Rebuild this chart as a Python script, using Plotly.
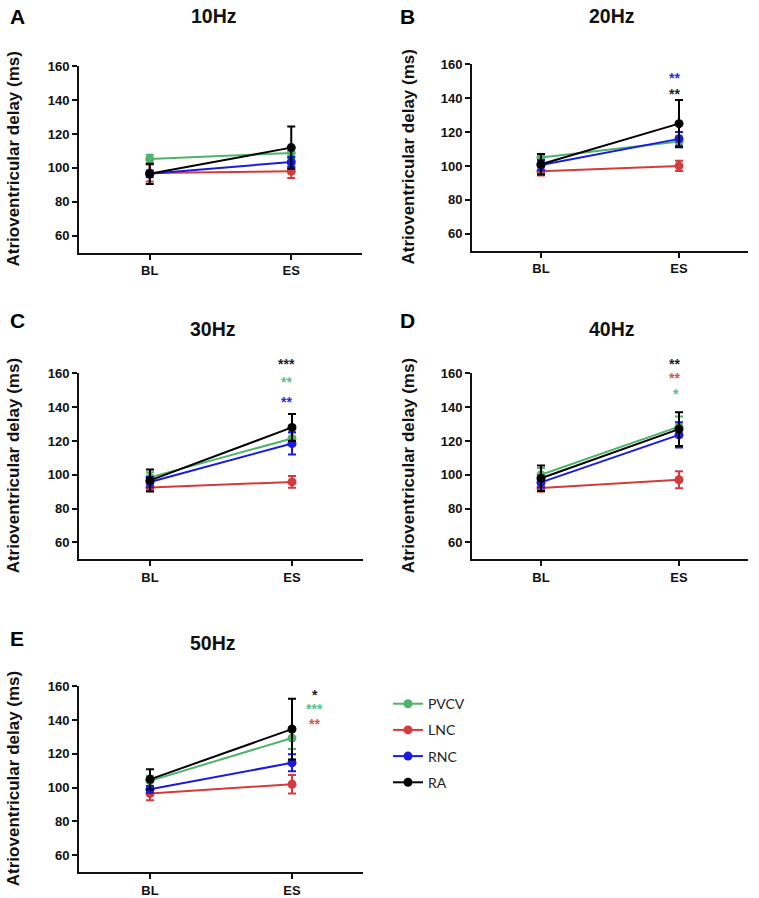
import plotly.graph_objects as go

W, H = 759, 898

# ---------------- data ----------------
conditions = ["BL", "ES"]
series_names = ["PVCV", "LNC", "RNC", "RA"]
panel_titles = ["10Hz", "20Hz", "30Hz", "40Hz", "50Hz"]
panel_letters = ["A", "B", "C", "D", "E"]

# mean values [BL, ES] per panel
pvcv_mean = [[105.3, 108.8], [105.0, 114.5], [98.5, 121.5], [100.0, 128.5], [104.0, 129.3]]
lnc_mean = [[97.0, 98.0], [96.8, 100.0], [92.5, 95.8], [92.2, 97.1], [96.5, 102.0]]
rnc_mean = [[96.5, 103.5], [100.5, 116.0], [95.7, 118.5], [95.5, 123.6], [99.0, 114.7]]
ra_mean = [[96.5, 112.0], [101.0, 125.0], [96.7, 128.0], [98.0, 127.0], [104.9, 134.6]]

# error (SEM) values [BL, ES] per panel
pvcv_err = [[2.5, 3.0], [2.0, 3.0], [3.0, 4.0], [4.0, 6.0], [3.0, 6.5]]
lnc_err = [[5.0, 4.0], [2.5, 3.0], [2.0, 3.5], [2.0, 5.0], [4.0, 5.5]]
rnc_err = [[2.0, 3.0], [3.0, 4.0], [3.0, 6.5], [3.0, 7.5], [2.0, 5.0]]
ra_err = [[6.0, 12.5], [6.0, 14.0], [6.5, 8.0], [7.5, 10.0], [6.0, 18.0]]

# significance marks
sig_panel = [1, 1, 2, 2, 2, 3, 3, 3, 4, 4, 4]
sig_text = ["**", "**", "***", "**", "**", "**", "**", "*", "*", "***", "**"]
sig_series = ["RNC", "RA", "RA", "PVCV", "RNC", "RA", "LNC", "PVCV", "RA", "PVCV", "LNC"]
sig_y = [152.6, 143.4, 166.0, 155.7, 143.6, 166.0, 157.8, 148.2, 155.3, 146.9, 138.5]
sig_x = [0.965, 0.965, 0.96, 0.96, 0.96, 0.97, 0.97, 0.98, 1.16, 1.16, 1.16]

y_ticks = [60, 80, 100, 120, 140, 160]
y_range = [50, 160]
x_range = [-0.5, 1.5]

# ---------------- styles ----------------
colors = {"PVCV": "#4fb36b", "LNC": "#d23c3c", "RNC": "#1a1ae0", "RA": "#000000"}
sig_colors = {"PVCV": "#5cc28e", "LNC": "#d05858", "RNC": "#2a2aee", "RA": "#222222"}
means = {"PVCV": pvcv_mean, "LNC": lnc_mean, "RNC": rnc_mean, "RA": ra_mean}
errs = {"PVCV": pvcv_err, "LNC": lnc_err, "RNC": rnc_err, "RA": ra_err}

# panel boxes in pixels: (x0, x1, ytop, ybottom)
boxes = [
    (79, 362, 60, 248),
    (472, 748, 58, 246),
    (79, 363, 370, 558),
    (472, 748, 370, 558),
    (79, 363, 686, 874),
]
title_pos = [(214, 9), (612, 9), (213, 325), (612, 325), (213, 642)]
letter_pos = [(8, 10), (398, 10), (8, 317), (398, 317), (8, 638)]
ytitle_x = [13, 408, 13, 408, 13]

FONT = "Liberation Sans, Arial, sans-serif"


def px(x):
    return x / W


def py(y):
    return 1 - y / H


fig = go.Figure()
layout = dict(
    width=W, height=H,
    margin=dict(l=0, r=0, t=0, b=0),
    paper_bgcolor="white", plot_bgcolor="white",
    font=dict(family=FONT, color="#111111"),
    annotations=[],
)

for i in range(5):
    sfx = "" if i == 0 else str(i + 1)
    x0, x1, yt, yb = boxes[i]
    layout["xaxis" + sfx] = dict(
        domain=[px(x0), px(x1)], range=x_range, anchor="y" + sfx,
        tickmode="array", tickvals=[0, 1], ticktext=conditions,
        showline=True, linecolor="#111111", linewidth=2,
        ticks="outside", ticklen=5, tickwidth=2, tickcolor="#111111",
        showgrid=False, zeroline=False, fixedrange=True,
        tickfont=dict(family=FONT, size=13, color="#111111", weight="bold"),
    )
    layout["yaxis" + sfx] = dict(
        domain=[py(yb), py(yt)], range=y_range, anchor="x" + sfx,
        tickmode="array", tickvals=y_ticks,
        showline=True, linecolor="#111111", linewidth=2,
        ticks="outside", ticklen=5, tickwidth=2, tickcolor="#111111",
        showgrid=False, zeroline=False, fixedrange=True,
        tickfont=dict(family=FONT, size=13, color="#111111", weight="bold"),
    )
    for name in series_names:
        fig.add_trace(go.Scatter(
            x=[0, 1], y=means[name][i],
            error_y=dict(type="data", array=errs[name][i], visible=True,
                         color=colors[name], thickness=2, width=4),
            mode="lines+markers",
            line=dict(color=colors[name], width=2),
            marker=dict(color=colors[name], size=9),
            name=name, legendgroup=name, showlegend=(i == 0),
            xaxis="x" + sfx, yaxis="y" + sfx,
        ))
    tx, ty = title_pos[i]
    layout["annotations"].append(dict(
        text=panel_titles[i], x=px(tx), y=py(ty), xref="paper", yref="paper",
        xanchor="center", yanchor="middle", showarrow=False,
        font=dict(family=FONT, size=19.5, color="#111111", weight="bold")))
    lx, ly = letter_pos[i]
    layout["annotations"].append(dict(
        text=panel_letters[i], x=px(lx), y=py(ly), xref="paper", yref="paper",
        xanchor="left", yanchor="middle", showarrow=False,
        font=dict(family=FONT, size=21, color="#000000", weight="bold")))
    layout["annotations"].append(dict(
        text="Atrioventricular delay (ms)", x=px(ytitle_x[i]), y=py((yt + yb) / 2),
        xref="paper", yref="paper", textangle=-90,
        xanchor="center", yanchor="middle", showarrow=False,
        font=dict(family=FONT, size=17, color="#111111", weight="bold")))

for k in range(len(sig_text)):
    i = sig_panel[k]
    sfx = "" if i == 0 else str(i + 1)
    xd = (sig_x[k] - x_range[0]) / (x_range[1] - x_range[0])
    yd = (sig_y[k] - y_range[0]) / (y_range[1] - y_range[0])
    layout["annotations"].append(dict(
        text=sig_text[k], x=xd, y=yd, xref="x" + sfx + " domain", yref="y" + sfx + " domain",
        xanchor="center", yanchor="middle", showarrow=False, yshift=-1,
        font=dict(family=FONT, size=14, color=sig_colors[sig_series[k]], weight="bold")))

layout["legend"] = dict(
    x=px(388), y=py(688), xanchor="left", yanchor="top",
    font=dict(family="Lato, Open Sans, sans-serif", size=14, color="#222222"),
    tracegroupgap=5, bgcolor="rgba(0,0,0,0)", itemwidth=30,
)

fig.update_layout(**layout)
fig.write_html(
    "out.html",
    config={"displayModeBar": False},
    post_script=(
        "document.body.style.margin='0';"
        "var gd=document.getElementById('{plot_id}');"
        "gd.style.position='absolute';gd.style.top='0px';gd.style.left='0px';"
    ),
)
